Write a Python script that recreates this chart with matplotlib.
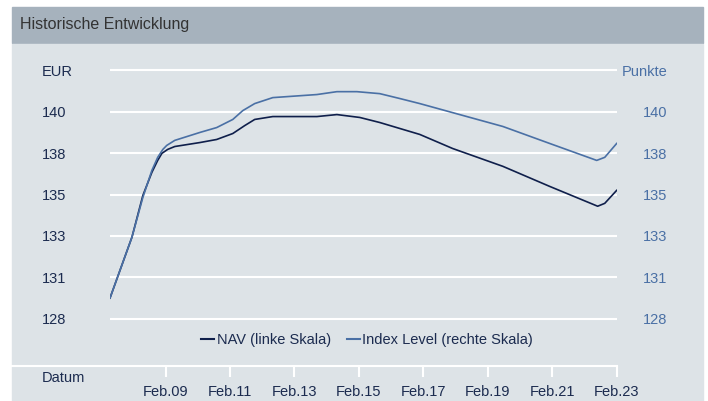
import matplotlib

matplotlib.use("Agg")
import matplotlib.pyplot as plt
from matplotlib.patches import Rectangle
from matplotlib.lines import Line2D

plt.rcParams["font.family"] = ["Liberation Sans", "DejaVu Sans"]

# decimal years
nav_dates = [2007.36, 2008.04, 2008.38, 2008.66, 2008.84, 2008.97, 2009.15, 2009.37,
             2010.15, 2010.67, 2011.17, 2011.54, 2011.85, 2012.41, 2013.78, 2014.40,
             2015.11, 2015.73, 2016.35, 2016.97, 2017.99, 2019.55, 2021.00, 2022.49,
             2022.71, 2023.08]
nav = [129.46, 132.83, 135.15, 136.43, 137.09, 137.48, 137.70, 137.86,
       138.08, 138.25, 138.58, 139.02, 139.36, 139.52, 139.52, 139.63,
       139.47, 139.19, 138.86, 138.53, 137.75, 136.76, 135.65, 134.55,
       134.71, 135.43]

index_dates = [2007.36, 2008.04, 2008.38, 2008.66, 2008.84, 2009.00, 2009.12, 2009.37,
               2010.15, 2010.67, 2011.17, 2011.48, 2011.85, 2012.41, 2013.78, 2014.40,
               2015.02, 2015.73, 2016.35, 2016.97, 2019.55, 2021.00, 2022.46, 2022.71,
               2023.08]
index_level = [129.46, 132.83, 135.04, 136.54, 137.26, 137.70, 137.92, 138.20,
               138.64, 138.91, 139.36, 139.85, 140.24, 140.57, 140.74, 140.90,
               140.90, 140.79, 140.52, 140.24, 138.97, 138.03, 137.09, 137.26,
               138.03]

# evenly spaced ticks; the source rounds them for display
y_ticks = [128.3, 130.6, 132.9, 135.2, 137.5, 139.8, 142.1]
y_labels = ["128", "131", "133", "135", "138", "140"]
x_ticks = [2009.083, 2011.083, 2013.083, 2015.083, 2017.083, 2019.083, 2021.083, 2023.083]
x_labels = ["Feb.09", "Feb.11", "Feb.13", "Feb.15", "Feb.17", "Feb.19", "Feb.21", "Feb.23"]

NAVY = "#0f1f4b"
BLUE = "#4a70a5"
TEXT = "#1b2b4f"
W, H = 708, 401

fig = plt.figure(figsize=(W / 100, H / 100), dpi=100)
fig.patches.append(Rectangle((12 / W, 1 - 42.5 / H), 691 / W, 35.5 / H,
                             transform=fig.transFigure, color="#a6b2bd", zorder=-10))
fig.patches.append(Rectangle((12 / W, 0), 691 / W, 1 - 44 / H,
                             transform=fig.transFigure, color="#dde3e7", zorder=-10))
fig.text(20 / W, 1 - 25 / H, "Historische Entwicklung", fontsize=11.5,
         color="#333333", va="center", ha="left")

bottom_px, top_px = 324.4, 64.6
x0, x1 = 2007.36, 2023.09
ax = fig.add_axes([110 / W, 1 - bottom_px / H, 507 / W, (bottom_px - top_px) / H])
ax.set_facecolor("none")
ax.set_xlim(x0, x1)
ax.set_ylim(128.0, 142.4)
ax.plot(nav_dates, nav, color=NAVY, lw=1.2, zorder=3)

ax.set_yticks(y_ticks)
ax.set_yticklabels(y_labels + ["EUR"])
ax.set_xticks([])
ax.grid(axis="y", color="white", lw=1.5)
ax.set_axisbelow(True)
ax.tick_params(axis="y", length=0, pad=49, labelsize=10.5, labelcolor=TEXT)
for lab in ax.get_yticklabels():
    lab.set_horizontalalignment("left")

ax2 = ax.twinx()
ax2.set_ylim(ax.get_ylim())
ax2.plot(index_dates, index_level, color=BLUE, lw=1.2, zorder=3)
ax2.set_yticks(y_ticks)
ax2.set_yticklabels(y_labels + ["Punkte"])
ax2.tick_params(axis="y", length=0, pad=36.5, labelsize=10.5, labelcolor=BLUE)
for lab in ax2.get_yticklabels():
    lab.set_horizontalalignment("right")

for a in (ax, ax2):
    for s in a.spines.values():
        s.set_visible(False)

# date axis: a flat axes from the panel edge to the last tick, same scale as ax
per_px = (x1 - x0) / 507
axd = fig.add_axes([12 / W, 1 - 366 / H, 605 / W, 0.001])
axd.set_facecolor("none")
axd.set_xlim(x0 - 98 * per_px, x1)
axd.set_yticks([])
for name, s in axd.spines.items():
    s.set_visible(name == "bottom")
axd.spines["bottom"].set_color("white")
axd.spines["bottom"].set_linewidth(1.5)
axd.set_xticks(x_ticks)
axd.set_xticklabels(x_labels)
axd.tick_params(axis="x", direction="out", length=8, width=1.5, color="white",
                pad=6, labelsize=10.5, labelcolor=TEXT)
fig.text(42 / W, 1 - 378 / H, "Datum", fontsize=10.5, color=TEXT, va="center", ha="left")

handles = [Line2D([], [], color=NAVY, lw=1.5), Line2D([], [], color=BLUE, lw=1.5)]
fig.legend(handles, ["NAV (linke Skala)", "Index Level (rechte Skala)"],
           loc="center", bbox_to_anchor=(367 / W, 1 - 340 / H), ncol=2, frameon=False,
           fontsize=10.5, labelcolor=TEXT, handlelength=0.9, handletextpad=0.15,
           columnspacing=1.1)

fig.savefig("out.png", dpi=100, facecolor="white")
